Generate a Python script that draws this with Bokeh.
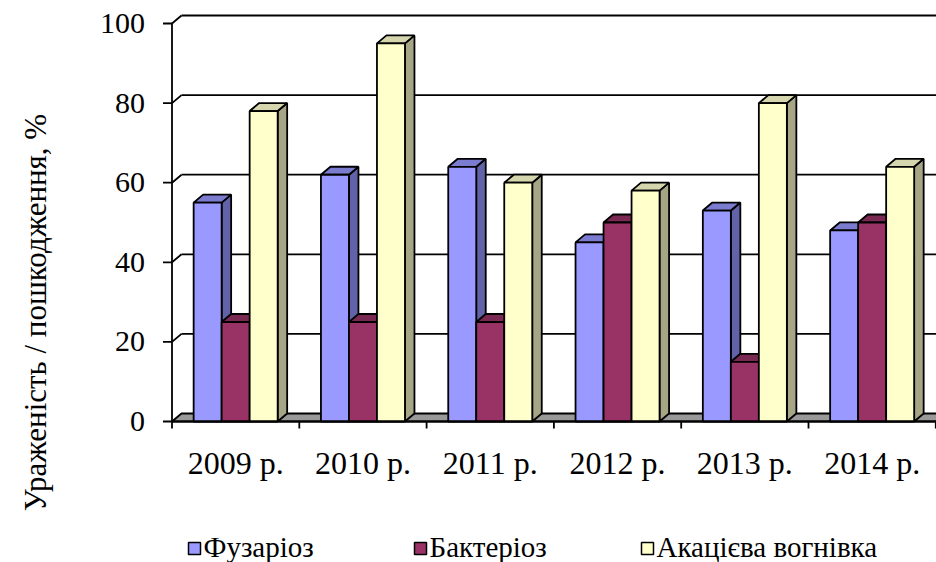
import math
from bokeh.plotting import figure
from bokeh.models import Range1d, ColumnDataSource
from bokeh.core.properties import value
from bokeh.embed import file_html
from bokeh.resources import INLINE

# ---------------- data ----------------
years = ["2009 р.", "2010 р.", "2011 р.", "2012 р.", "2013 р.", "2014 р."]
series_names = ["Фузаріоз", "Бактеріоз", "Акацієва вогнівка"]
fusarium = [55, 62, 64, 45, 53, 48]
bacteriosis = [25, 25, 25, 50, 15, 50]
acacia = [78, 95, 60, 58, 80, 64]
y_ticks = [0, 20, 40, 60, 80, 100]
y_title = "Ураженість / пошкодження, %"

# ---------------- styling ----------------
front_colors = ["#9999FF", "#993366", "#FFFFCC"]
top_colors = ["#7B7BD0", "#7A2952", "#D6D6AE"]
side_colors = ["#6262A8", "#632142", "#A6A686"]
FONT = "Liberation Serif"

W, H = 936, 562
ORIGIN_X, ORIGIN_Y = 171.5, 421.0   # pixel position of (category 0, value 0)
CAT_PX = 127.3                      # pixels per category
PX_PER_Y = 3.98                     # pixels per value unit

def px_x(n):   # horizontal pixel distance -> data units
    return n / CAT_PX

def px_y(n):   # vertical pixel distance -> data units
    return n / PX_PER_Y

def at_x(px):  # absolute pixel column -> data x
    return px_x(px - ORIGIN_X)

def at_y(py):  # absolute pixel row -> data y
    return px_y(ORIGIN_Y - py)

x0, x1 = at_x(0), at_x(W)
y0, y1 = at_y(H), at_y(0)

DX = px_x(9.5)       # depth offset
DY = px_y(8.0)
BAR_W = 0.22
LW = 1.8

p = figure(width=W, height=H, x_range=Range1d(x0, x1), y_range=Range1d(y0, y1),
           output_backend="svg", toolbar_location=None,
           x_axis_type=None, y_axis_type=None,
           min_border_left=0, min_border_right=0, min_border_top=0, min_border_bottom=0)
p.outline_line_color = None
p.background_fill_color = "white"
p.border_fill_color = "white"

XR = x1 + 0.5
# floor
p.patch([0, XR, XR + DX, DX], [0, 0, DY, DY],
        fill_color="#999999", line_color="black", line_width=LW)

# back wall gridlines
gx0, gy0, gx1, gy1 = [], [], [], []
for t in y_ticks[1:]:
    gx0 += [0, DX]
    gy0 += [t, t + DY]
    gx1 += [DX, XR]
    gy1 += [t + DY, t + DY]
p.segment(gx0, gy0, gx1, gy1, line_color="black", line_width=LW)

# bars (3D look: side, top, front)
all_series = [fusarium, bacteriosis, acacia]
for j, vals in enumerate(all_series):
    lefts = [i + 0.5 - 1.5 * BAR_W + j * BAR_W for i in range(len(years))]
    rights = [l + BAR_W for l in lefts]
    side_xs = [[r, r + DX, r + DX, r] for r in rights]
    side_ys = [[0, DY, v + DY, v] for v in vals]
    top_xs = [[l, r, r + DX, l + DX] for l, r in zip(lefts, rights)]
    top_ys = [[v, v, v + DY, v + DY] for v in vals]
    p.patches(side_xs, side_ys, fill_color=side_colors[j], line_color="black", line_width=LW)
    p.patches(top_xs, top_ys, fill_color=top_colors[j], line_color="black", line_width=LW)
    src = ColumnDataSource(dict(left=lefts, right=rights, top=vals, bottom=[0] * len(vals)))
    p.quad(left="left", right="right", top="top", bottom="bottom", source=src,
           fill_color=front_colors[j], line_color="black", line_width=LW)

# value axis: line, ticks, labels
p.segment([0], [0], [0], [y_ticks[-1]], line_color="black", line_width=LW)
p.segment([-px_x(9)] * len(y_ticks), y_ticks, [0] * len(y_ticks), y_ticks,
          line_color="black", line_width=LW)
p.text(x=[-px_x(27)] * len(y_ticks), y=y_ticks, text=[str(t) for t in y_ticks],
       text_align="right", text_baseline="middle", text_font=value(FONT),
       text_font_size="30px", text_color="black")

# category axis: line, boundary ticks, labels
bounds = list(range(len(years) + 1))
p.segment([0], [0], [XR], [0], line_color="black", line_width=LW)
p.segment(bounds, [0] * len(bounds), bounds, [-px_y(7)] * len(bounds),
          line_color="black", line_width=LW)
p.text(x=[i + 0.5 for i in range(len(years))], y=[at_y(462)] * len(years), text=years,
       text_align="center", text_baseline="middle", text_font=value(FONT),
       text_font_size="32px", text_color="black")

# value axis title
p.text(x=[at_x(35)], y=[at_y(312)], text=[y_title],
       angle=math.pi / 2, text_align="center", text_baseline="middle",
       text_font=value(FONT), text_font_size="31px", text_color="black")

# legend along the bottom
legend_px = [188, 414, 641]
SQ = 12
LEG_Y = 546
lg_left = [at_x(px) for px in legend_px]
lg_right = [at_x(px + SQ) for px in legend_px]
p.quad(left=lg_left, right=lg_right, top=[at_y(LEG_Y + 2 - SQ / 2)] * 3,
       bottom=[at_y(LEG_Y + 2 + SQ / 2)] * 3, fill_color=front_colors,
       line_color="black", line_width=1.5)
p.text(x=[at_x(px + SQ + 3) for px in legend_px], y=[at_y(LEG_Y)] * 3, text=series_names,
       text_align="left", text_baseline="middle", text_font=value(FONT),
       text_font_size="29px", text_color="black")

open("out.html", "w").write(file_html(p, INLINE))
